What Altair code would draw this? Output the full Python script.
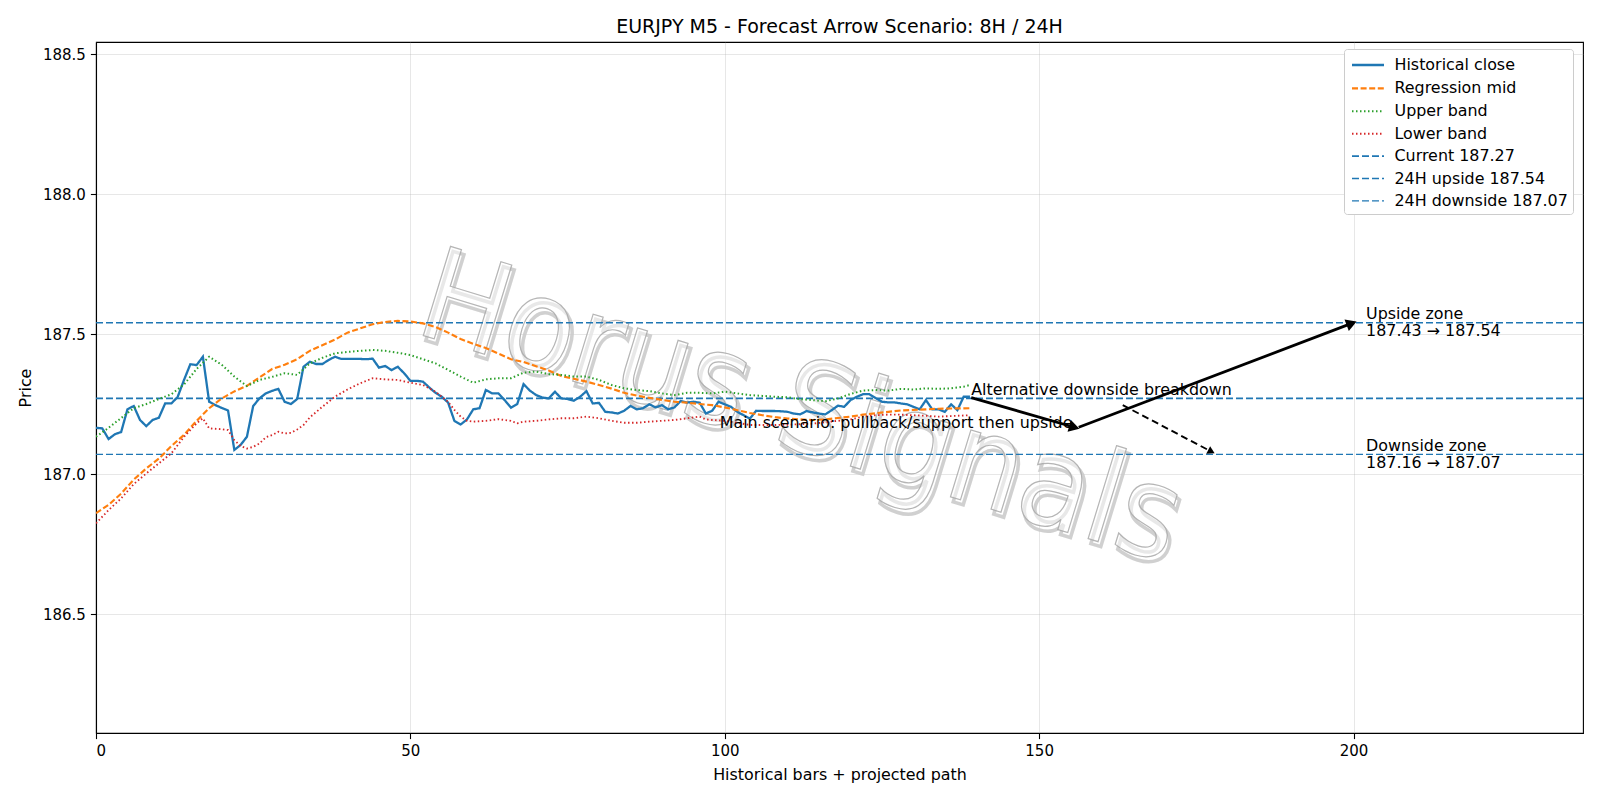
import math
import altair as alt
import pandas as pd

# ---------------- data ----------------
close = [
    187.165, 187.163, 187.125, 187.142, 187.150, 187.231, 187.243, 187.193, 187.171, 187.193,
    187.201, 187.252, 187.252, 187.276, 187.336, 187.392, 187.389, 187.419, 187.258, 187.246,
    187.236, 187.227, 187.086, 187.104, 187.133, 187.243, 187.270, 187.288, 187.297, 187.304,
    187.258, 187.250, 187.268, 187.383, 187.401, 187.393, 187.393, 187.407, 187.419, 187.411,
    187.411, 187.411, 187.411, 187.410, 187.412, 187.380, 187.386, 187.371, 187.383, 187.360,
    187.333, 187.333, 187.330, 187.309, 187.290, 187.276, 187.255, 187.190, 187.177, 187.195,
    187.231, 187.235, 187.300, 187.288, 187.288, 187.264, 187.237, 187.250, 187.321, 187.298,
    187.282, 187.273, 187.270, 187.294, 187.270, 187.268, 187.262, 187.276, 187.296, 187.252,
    187.254, 187.222, 187.220, 187.216, 187.226, 187.243, 187.231, 187.235, 187.249, 187.238,
    187.246, 187.231, 187.238, 187.261, 187.255, 187.258, 187.255, 187.216, 187.226, 187.258,
    187.249, 187.240, 187.222, 187.210, 187.198, 187.226, 187.225, 187.225, 187.225, 187.224,
    187.222, 187.216, 187.213, 187.225, 187.220, 187.216, 187.213, 187.228, 187.244, 187.240,
    187.264, 187.276, 187.285, 187.285, 187.271, 187.258, 187.256, 187.256, 187.252, 187.249,
    187.240, 187.231, 187.264, 187.231, 187.231, 187.222, 187.249, 187.228, 187.276, 187.276,
]

mid_x = [0, 2, 4, 6, 8, 10, 12, 14, 16, 18, 20, 22, 24, 26, 28, 30, 32, 34, 36, 38, 40, 42, 44,
         46, 48, 50, 52, 54, 56, 58, 60, 62, 64, 66, 68, 70, 72, 74, 76, 78, 80, 82, 84, 86, 88,
         90, 92, 94, 96, 98, 100, 102, 104, 106, 108, 110, 112, 114, 116, 118, 120, 122, 124,
         126, 128, 130, 132, 134, 136, 139]
mid = [186.860, 186.890, 186.930, 186.980, 187.020, 187.055, 187.100, 187.140, 187.190, 187.235,
       187.270, 187.295, 187.315, 187.345, 187.375, 187.390, 187.410, 187.440, 187.460, 187.480,
       187.505, 187.520, 187.535, 187.543, 187.547, 187.545, 187.538, 187.525, 187.505, 187.482,
       187.465, 187.450, 187.430, 187.410, 187.400, 187.385, 187.370, 187.350, 187.340, 187.330,
       187.318, 187.305, 187.290, 187.280, 187.272, 187.265, 187.258, 187.255, 187.250, 187.246,
       187.238, 187.228, 187.218, 187.210, 187.203, 187.198, 187.195, 187.193, 187.195, 187.200,
       187.205, 187.212, 187.217, 187.222, 187.227, 187.229, 187.231, 187.233, 187.234, 187.235]

upper_x = [0, 2, 4, 6, 8, 10, 12, 14, 16, 18, 20, 22, 24, 26, 28, 30, 32, 34, 36, 38, 40, 42, 44,
           46, 48, 50, 52, 54, 56, 58, 60, 62, 64, 66, 68, 70, 72, 74, 76, 78, 80, 82, 84, 86, 88,
           90, 92, 94, 96, 98, 100, 102, 104, 106, 108, 110, 112, 114, 116, 118, 120, 122, 124,
           126, 128, 130, 132, 134, 136, 138, 139]
upper = [187.133, 187.165, 187.200, 187.235, 187.250, 187.268, 187.285, 187.320, 187.375, 187.419,
         187.390, 187.348, 187.314, 187.336, 187.347, 187.360, 187.354, 187.395, 187.415, 187.431,
         187.436, 187.440, 187.443, 187.440, 187.433, 187.425, 187.410, 187.395, 187.372, 187.348,
         187.326, 187.338, 187.342, 187.342, 187.362, 187.366, 187.357, 187.354, 187.348, 187.348,
         187.336, 187.318, 187.306, 187.300, 187.296, 187.288, 187.282, 187.290, 187.290, 187.288,
         187.294, 187.288, 187.282, 187.279, 187.276, 187.274, 187.267, 187.264, 187.260, 187.270,
         187.286, 187.298, 187.300, 187.298, 187.304, 187.302, 187.306, 187.304, 187.306, 187.312,
         187.318]

lower_x = [0, 2, 4, 6, 8, 10, 12, 14, 16, 17, 18, 20, 21, 22, 23, 24, 25, 26, 27, 28, 29, 30, 31,
           32, 33, 34, 36, 38, 40, 42, 44, 46, 48, 50, 52, 54, 56, 57, 58, 59, 60, 62, 64, 66, 67,
           68, 70, 72, 74, 76, 78, 80, 82, 84, 86, 88, 90, 92, 94, 96, 97, 98, 100, 102, 104, 106,
           108, 110, 112, 114, 116, 118, 120, 122, 124, 126, 128, 130, 132, 134, 136, 139]
lower = [186.824, 186.871, 186.913, 186.964, 187.002, 187.038, 187.074, 187.133, 187.181, 187.199,
         187.163, 187.160, 187.157, 187.121, 187.100, 187.091, 187.097, 187.109, 187.131, 187.139,
         187.151, 187.145, 187.147, 187.159, 187.175, 187.202, 187.240, 187.276, 187.302, 187.324,
         187.342, 187.338, 187.336, 187.326, 187.318, 187.294, 187.258, 187.229, 187.205, 187.190,
         187.187, 187.190, 187.196, 187.190, 187.181, 187.187, 187.190, 187.195, 187.199, 187.199,
         187.205, 187.199, 187.190, 187.183, 187.183, 187.187, 187.190, 187.193, 187.199, 187.205,
         187.195, 187.193, 187.190, 187.183, 187.175, 187.175, 187.175, 187.176, 187.178, 187.180,
         187.185, 187.190, 187.195, 187.205, 187.210, 187.212, 187.212, 187.210, 187.208, 187.205,
         187.207, 187.210]

level_names = ["Current 187.27", "24H upside 187.54", "24H downside 187.07"]
level_values = [187.27, 187.54, 187.07]

series_names = ["Historical close", "Regression mid", "Upper band", "Lower band"] + level_names
series_colors = ["#1f77b4", "#ff7f0e", "#2ca02c", "#d62728", "#1f77b4", "#1f77b4", "#1f77b4"]
series_dash = [[1, 0], [6, 2.6], [1.5, 2.5], [1.5, 2.5], [7, 3], [7, 3], [7, 3]]
series_width = [2.3, 1.4, 1.3, 1.3, 1.4, 1.4, 1.4]

# scenario arrows (data coordinates): start -> end
arrow_x0 = [139.2, 156.3, 163.3]
arrow_y0 = [187.273, 187.167, 187.246]
arrow_x1 = [155.6, 199.7, 177.4]
arrow_y1 = [187.167, 187.538, 187.080]
arrow_kind = ["solid", "solid", "dashed"]

note_text = ["Alternative downside breakdown", "Main scenario: pullback/support then upside",
             "Upside zone\n187.43 \u2192 187.54", "Downside zone\n187.16 \u2192 187.07"]
note_x = [139.2, 155.3, 202.0, 202.0]
note_y = [187.272, 187.183, 187.571, 187.101]
note_align = ["left", "right", "left", "left"]
note_base = ["bottom", "middle", "middle", "middle"]

wm_text = ["Horus Signals"]
wm_x = [112.0]
wm_y = [187.225]

X_DOMAIN = [0, 236.5]
Y_DOMAIN = [186.075, 188.543]
W, H = 1487, 691
FONT = "DejaVu Sans"
WM_FONT = "Liberation Sans Narrow, DejaVu Sans Condensed, DejaVu Sans"
TXT = 15.9

# ---------------- tables ----------------
rows = []
for i, v in enumerate(close):
    rows.append({"x": i, "y": v, "series": "Historical close"})
for xv, v in zip(mid_x, mid):
    rows.append({"x": xv, "y": v, "series": "Regression mid"})
for xv, v in zip(upper_x, upper):
    rows.append({"x": xv, "y": v, "series": "Upper band"})
for xv, v in zip(lower_x, lower):
    rows.append({"x": xv, "y": v, "series": "Lower band"})
lines_df = pd.DataFrame(rows)
levels_df = pd.DataFrame({"y": level_values, "series": level_names})

px_x = W / (X_DOMAIN[1] - X_DOMAIN[0])
px_y = H / (Y_DOMAIN[1] - Y_DOMAIN[0])
arr = pd.DataFrame({"x0": arrow_x0, "y0": arrow_y0, "x1": arrow_x1, "y1": arrow_y1,
                    "kind": arrow_kind})
arr["angle"] = [
    (math.degrees(math.atan2(-(b1 - b0) * px_y, (a1 - a0) * px_x)) + 360) % 360
    for a0, b0, a1, b1 in zip(arrow_x0, arrow_y0, arrow_x1, arrow_y1)
]
notes_df = pd.DataFrame({"text": note_text, "x": note_x, "y": note_y,
                         "align": note_align, "base": note_base})
wm_df = pd.DataFrame({"text": wm_text, "x": wm_x, "y": wm_y})

xs = alt.Scale(domain=X_DOMAIN, nice=False, zero=False)
ys = alt.Scale(domain=Y_DOMAIN, nice=False, zero=False)

color_scale = alt.Scale(domain=series_names, range=series_colors)
dash_scale = alt.Scale(domain=series_names, range=series_dash)
width_scale = alt.Scale(domain=series_names, range=series_width)

# long legend handle drawn as a custom path (unit box scaled by sqrt(size)/2)
legend = alt.Legend(
    title=None, orient="none", legendX=1248, legendY=7, symbolType="M-0.8,0L2.4,0",
    symbolSize=400, labelFontSize=TXT, labelFont=FONT, labelColor="black",
    labelOffset=23, rowPadding=3.4, padding=4.5, strokeColor="#cccccc", fillColor="white",
    cornerRadius=3, symbolStrokeWidth=1.5, labelLimit=300,
)

x_axis = alt.Axis(title="Historical bars + projected path", values=[0, 50, 100, 150, 200],
                  format="d", grid=True, titlePadding=8)
y_axis = alt.Axis(title="Price", values=[186.5, 187.0, 187.5, 188.0, 188.5], format=".1f",
                  grid=True, titlePadding=9)

watermark_shadow = alt.Chart(wm_df).mark_text(
    font=WM_FONT, fontSize=128, angle=17, fill="none", stroke="#c8c8c8", strokeWidth=3.5,
    strokeOpacity=0.85, dx=4, dy=4,
).encode(x=alt.X("x:Q", scale=xs, axis=x_axis), y=alt.Y("y:Q", scale=ys, axis=y_axis),
         text="text:N")
watermark = alt.Chart(wm_df).mark_text(
    font=WM_FONT, fontSize=128, angle=17, fill="white", fillOpacity=0.5, stroke="#a8a8a8",
    strokeWidth=1.2, strokeOpacity=0.85,
).encode(x=alt.X("x:Q", scale=xs), y=alt.Y("y:Q", scale=ys), text="text:N")

level_layer = alt.Chart(levels_df).mark_rule().encode(
    y=alt.Y("y:Q", scale=ys),
    color=alt.Color("series:N", scale=color_scale, sort=series_names, legend=legend),
    strokeDash=alt.StrokeDash("series:N", scale=dash_scale, sort=series_names, legend=legend),
    strokeWidth=alt.StrokeWidth("series:N", scale=width_scale, sort=series_names, legend=legend),
)

line_layer = alt.Chart(lines_df).mark_line(clip=True).encode(
    x=alt.X("x:Q", scale=xs),
    y=alt.Y("y:Q", scale=ys),
    color=alt.Color("series:N", scale=color_scale, sort=series_names, legend=legend),
    strokeDash=alt.StrokeDash("series:N", scale=dash_scale, sort=series_names, legend=legend),
    strokeWidth=alt.StrokeWidth("series:N", scale=width_scale, sort=series_names, legend=legend),
    detail="series:N",
)

arrow_solid = alt.Chart(arr).transform_filter(alt.datum.kind == "solid").mark_rule(
    color="black", strokeWidth=2.8, strokeCap="butt"
).encode(x=alt.X("x0:Q", scale=xs), y=alt.Y("y0:Q", scale=ys), x2="x1:Q", y2="y1:Q")
arrow_dashed = alt.Chart(arr).transform_filter(alt.datum.kind == "dashed").mark_rule(
    color="black", strokeWidth=1.9, strokeDash=[7, 4]
).encode(x=alt.X("x0:Q", scale=xs), y=alt.Y("y0:Q", scale=ys), x2="x1:Q", y2="y1:Q")
heads_solid = alt.Chart(arr).transform_filter(alt.datum.kind == "solid").mark_point(
    shape="triangle-right", filled=True, color="black", size=150, opacity=1
).encode(x=alt.X("x1:Q", scale=xs), y=alt.Y("y1:Q", scale=ys),
         angle=alt.Angle("angle:Q", scale=None))
heads_dashed = alt.Chart(arr).transform_filter(alt.datum.kind == "dashed").mark_point(
    shape="triangle-right", filled=True, color="black", size=70, opacity=1
).encode(x=alt.X("x1:Q", scale=xs), y=alt.Y("y1:Q", scale=ys),
         angle=alt.Angle("angle:Q", scale=None))

notes_layers = []
for al, bl in [("left", "bottom"), ("right", "middle"), ("left", "middle")]:
    notes_layers.append(
        alt.Chart(notes_df).transform_filter(
            (alt.datum.align == al) & (alt.datum.base == bl)
        ).mark_text(font=FONT, fontSize=TXT, color="black", align=al, baseline=bl,
                    lineBreak="\n", lineHeight=17)
        .encode(x=alt.X("x:Q", scale=xs), y=alt.Y("y:Q", scale=ys), text="text:N")
    )

chart = alt.layer(
    watermark_shadow, watermark, level_layer, line_layer, arrow_solid, arrow_dashed,
    heads_solid, heads_dashed, *notes_layers,
).resolve_scale(color="shared", strokeDash="shared", strokeWidth="shared").properties(
    width=W, height=H,
    title=alt.TitleParams("EURJPY M5 - Forecast Arrow Scenario: 8H / 24H", fontSize=19,
                          font=FONT, fontWeight="normal", color="black", offset=5),
    autosize=alt.AutoSizeParams(type="none"),
    padding={"left": 96, "top": 42, "right": 17, "bottom": 67},
    background="white",
).configure_view(stroke="black", strokeWidth=1.1).configure_axis(
    labelFont=FONT, titleFont=FONT, labelFontSize=15, titleFontSize=TXT,
    labelColor="black", titleColor="black", titleFontWeight="normal",
    domainColor="black", domainWidth=1.1, tickColor="black", tickSize=5.6, tickWidth=1.1,
    gridColor="#b0b0b0", gridOpacity=0.35, gridWidth=0.9, labelPadding=5,
)

chart.save("out.html", embed_options={"renderer": "svg", "actions": False})
